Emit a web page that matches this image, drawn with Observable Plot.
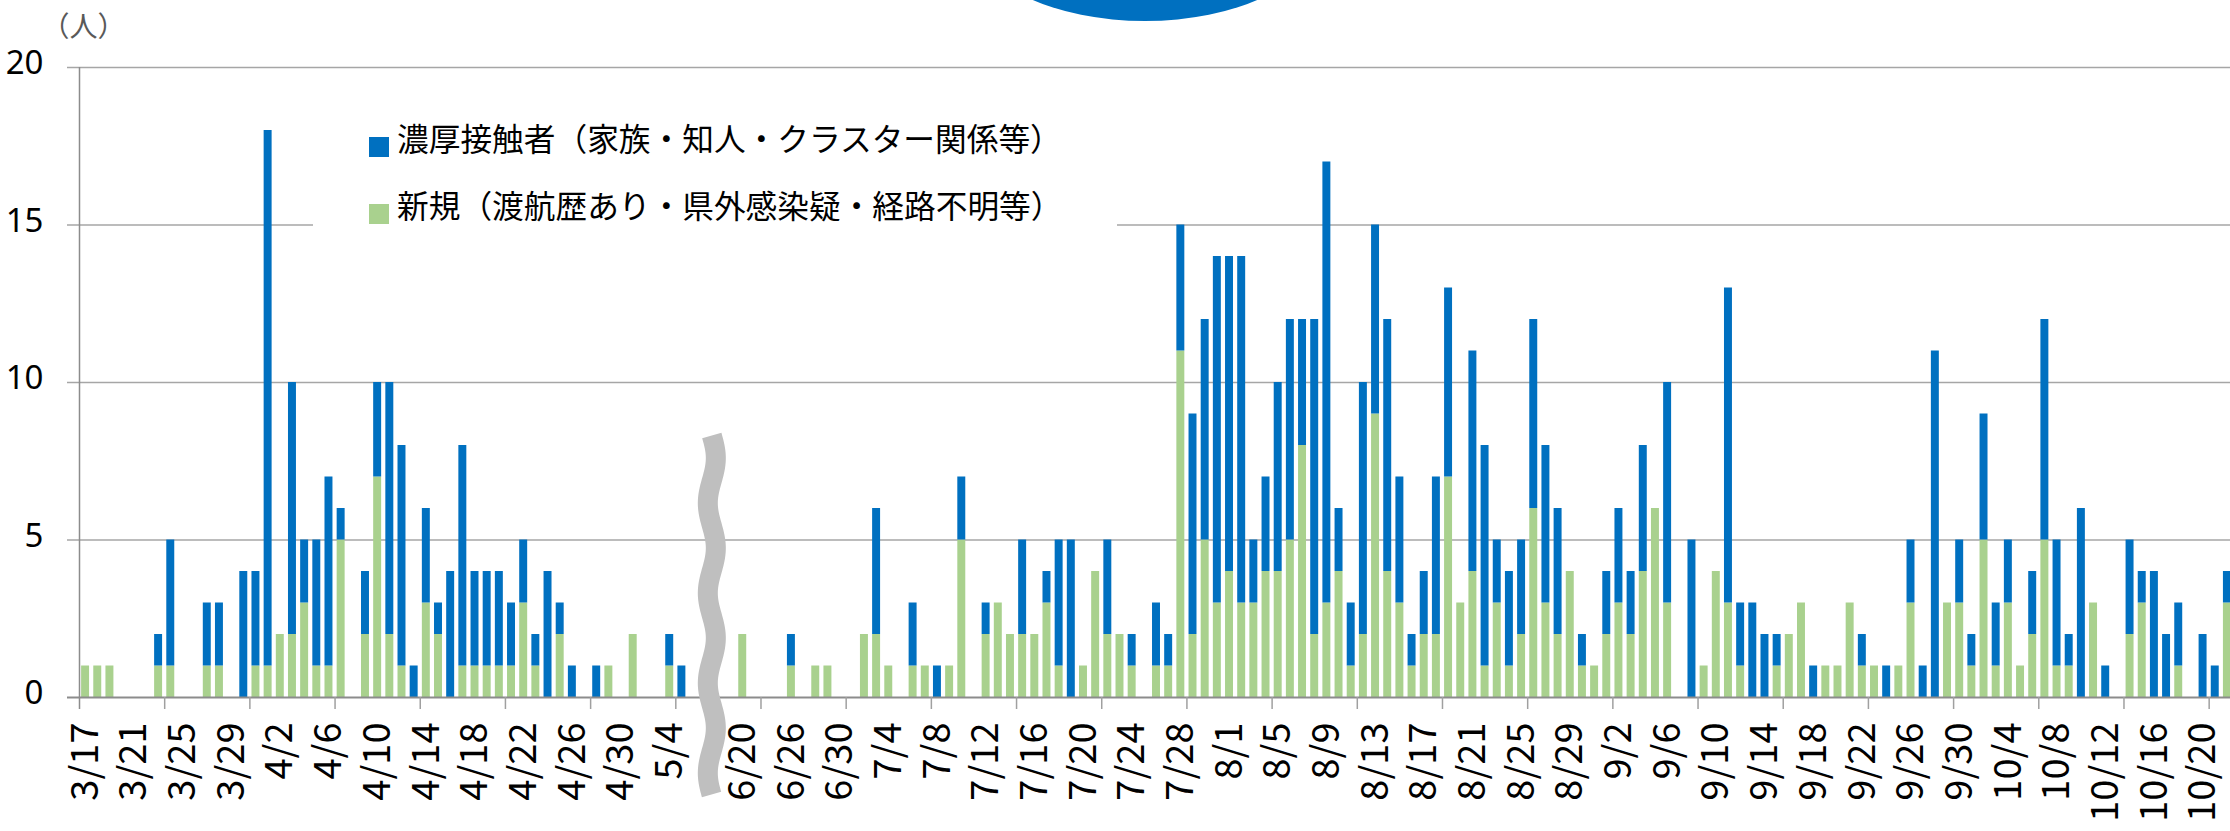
<!DOCTYPE html>
<html><head><meta charset="utf-8">
<script src="https://cdn.jsdelivr.net/npm/d3@7"></script>
<script src="https://cdn.jsdelivr.net/npm/@observablehq/plot@0.6"></script>
<style>
html,body{margin:0;padding:0;background:#fff;overflow:hidden;}
#wrap{position:relative;width:2230px;height:831px;overflow:hidden;}
#chart{position:absolute;left:0;top:0;}
#ellipse{position:absolute;left:978px;top:-141px;width:334px;height:162px;border-radius:50%;background:#0070c0;}
#legend{position:absolute;left:313px;top:100px;width:804px;height:135px;background:#fff;font-family:"Noto Sans CJK JP";font-size:31.7px;color:#000;}
#legend .txt{position:absolute;white-space:nowrap;line-height:30px;}
#legend .sw{position:absolute;width:20px;height:20px;}
</style></head><body>
<div id="wrap"><div id="chart"></div><div id="ellipse"></div><div id="legend"></div></div>
<script>
// categories (the gap slots stand for the omitted period shown by the break mark)
const dates = [
"3/17","3/18","3/19","3/20","3/21","3/22","3/23","3/24","3/25","3/26","3/27","3/28","3/29","3/30","3/31",
"4/1","4/2","4/3","4/4","4/5","4/6","4/7","4/8","4/9","4/10","4/11","4/12","4/13","4/14","4/15",
"4/16","4/17","4/18","4/19","4/20","4/21","4/22","4/23","4/24","4/25","4/26","4/27","4/28","4/29","4/30",
"5/1","5/2","5/3","5/4","5/5",
"gap1","gap2","gap3","gap4",
"6/20","6/23","6/24","6/25","6/26","6/27","6/28","6/29","6/30",
"7/1","7/2","7/3","7/4","7/5","7/6","7/7","7/8","7/9","7/10","7/11","7/12","7/13","7/14","7/15","7/16",
"7/17","7/18","7/19","7/20","7/21","7/22","7/23","7/24","7/25","7/26","7/27","7/28","7/29","7/30","7/31",
"8/1","8/2","8/3","8/4","8/5","8/6","8/7","8/8","8/9","8/10","8/11","8/12","8/13","8/14","8/15","8/16",
"8/17","8/18","8/19","8/20","8/21","8/22","8/23","8/24","8/25","8/26","8/27","8/28","8/29","8/30","8/31",
"9/1","9/2","9/3","9/4","9/5","9/6","9/7","9/8","9/9","9/10","9/11","9/12","9/13","9/14","9/15",
"9/16","9/17","9/18","9/19","9/20","9/21","9/22","9/23","9/24","9/25","9/26","9/27","9/28","9/29","9/30",
"10/1","10/2","10/3","10/4","10/5","10/6","10/7","10/8","10/9","10/10","10/11","10/12","10/13","10/14","10/15",
"10/16","10/17","10/18","10/19","10/20","10/21","10/22"
];
// 新規（渡航歴あり・県外感染疑・経路不明等）
const newCases = [
1,1,1,0,0,0,1,1,0,0, 1,1,0,0,1,1,2,2,3,1, 1,5,0,2,7,2,1,0,3,2, 0,1,1,1,1,1,3,1,0,2,
0,0,0,1,0,2,0,0,1,0, 0,0,0,0,2,0,0,0,1,0, 1,1,0,0,2,2,1,0,1,1, 0,1,5,0,2,3,2,2,2,3,
1,0,1,4,2,2,1,0,1,1, 11,2,5,3,4,3,3,4,4,5, 8,2,3,4,1,2,9,4,3,1, 2,2,7,3,4,1,3,1,2,6,
3,2,4,1,1,2,3,2,4,6, 3,0,0,1,4,3,1,0,0,1, 2,3,0,1,1,3,1,1,0,1, 3,0,0,3,3,1,5,1,3,1,
2,5,1,1,0,3,0,0,2,3, 0,0,1,0,0,0,3
];
// 濃厚接触者（家族・知人・クラスター関係等）
const contactCases = [
0,0,0,0,0,0,1,4,0,0, 2,2,0,4,3,17,0,8,2,4, 6,1,0,2,3,8,7,1,3,1, 4,7,3,3,3,2,2,1,4,1,
1,0,1,0,0,0,0,0,1,1, 0,0,0,0,0,0,0,0,1,0, 0,0,0,0,0,4,0,0,2,0, 1,0,2,0,1,0,0,3,0,1,
4,5,0,0,3,0,1,0,2,1, 4,7,7,11,10,11,2,3,6,7, 4,10,14,2,2,8,6,8,4,1, 2,5,6,0,7,7,2,3,3,6,
5,4,0,1,0,2,3,2,4,0, 7,0,5,0,0,10,2,3,2,1, 0,0,1,0,0,0,1,0,1,0, 2,1,11,0,2,1,4,2,2,0,
2,7,4,1,6,0,1,0,3,1, 4,2,2,0,2,1,1
];
const seriesNames = ["濃厚接触者（家族・知人・クラスター関係等）", "新規（渡航歴あり・県外感染疑・経路不明等）"];
const seriesColors = ["#0070c0", "#a9d18e"];
const tickLabels = ["3/17","3/21","3/25","3/29","4/2","4/6","4/10","4/14","4/18","4/22","4/26","4/30","5/4",
"6/20","6/26","6/30","7/4","7/8","7/12","7/16","7/20","7/24","7/28","8/1","8/5","8/9","8/13","8/17","8/21",
"8/25","8/29","9/2","9/6","9/10","9/14","9/18","9/22","9/26","9/30","10/4","10/8","10/12","10/16","10/20"];
const yTicks = [0,5,10,15,20];
const yUnit = "（人）";
const breakBefore = "gap3";

const rows = dates.flatMap((d, i) => [
  {date: d, series: seriesNames[1], value: newCases[i]},
  {date: d, series: seriesNames[0], value: contactCases[i]}
]);

const W = 2233, H = 831, ML = 79, MT = 67, MB = 134;
const step = (W - ML) / dates.length;
const plotH = H - MT - MB;

const chart = Plot.plot({
  width: W, height: H,
  marginLeft: ML, marginRight: 0, marginTop: MT, marginBottom: MB,
  style: {maxWidth: "none", background: "transparent", overflow: "visible"},
  x: {type: "band", domain: dates, padding: 0, round: false},
  y: {domain: [0, 20]},
  color: {domain: seriesNames, range: seriesColors},
  marks: [
    Plot.ruleY(yTicks.slice(1), {insetLeft: -12, stroke: "#a6a6a6", strokeWidth: 1.5}),
    Plot.barY(rows, {x: "date", y: "value", fill: "series", insetLeft: 2.1, insetRight: 2.1}),
    Plot.ruleY([0], {insetLeft: -12, stroke: "#8c8c8c", strokeWidth: 2}),
    Plot.ruleX(dates.filter((d, i) => i % 7 === 0 && i > 0), {dx: -step / 2, insetTop: plotH, insetBottom: -12, stroke: "#a0a0a0", strokeWidth: 1.5}),
    Plot.ruleX([dates[0]], {dx: -step / 2, insetBottom: -12, stroke: "#8c8c8c", strokeWidth: 1.5}),
    Plot.axisY(yTicks, {tickSize: 0, tickPadding: 36, fontSize: 33, fontFamily: "Noto Sans", dy: -4, label: null}),
    Plot.axisX(tickLabels, {tickSize: 0, tickPadding: 25, tickRotate: -90, fontSize: 38, fontFamily: "Noto Sans CJK JP", label: null}),
    Plot.text([yUnit], {text: d => d, frameAnchor: "top-left", textAnchor: "middle", dx: 4, dy: -50, fontSize: 28, fill: "#595959", fontFamily: "Noto Sans CJK JP"})
  ]
});
document.getElementById("chart").appendChild(chart);

// axis break mark
const xs = chart.scale("x"), ys = chart.scale("y");
const bx = xs.apply(breakBefore);
const yTop = ys.apply(8.3), yBot = ys.apply(0) + 98;
const pts = d3.range(yTop, yBot + 0.5, 1).map(y => [bx + 4 * Math.sin((y - yTop) / 90 * 2 * Math.PI), y]);
d3.select(chart).append("path").attr("d", d3.line()(pts))
  .attr("fill", "none").attr("stroke", "#bfbfbf").attr("stroke-width", 20);

// legend
const legend = document.getElementById("legend");
[[seriesNames[0], seriesColors[0], 0], [seriesNames[1], seriesColors[1], 67]].forEach(([name, color, off]) => {
  const sw = document.createElement("div");
  sw.className = "sw"; sw.style.left = "56px"; sw.style.top = (37 + off) + "px"; sw.style.background = color;
  const t = document.createElement("div");
  t.className = "txt"; t.style.left = "84px"; t.style.top = (22 + off) + "px"; t.textContent = name;
  legend.appendChild(sw); legend.appendChild(t);
});
</script>
</body></html>
